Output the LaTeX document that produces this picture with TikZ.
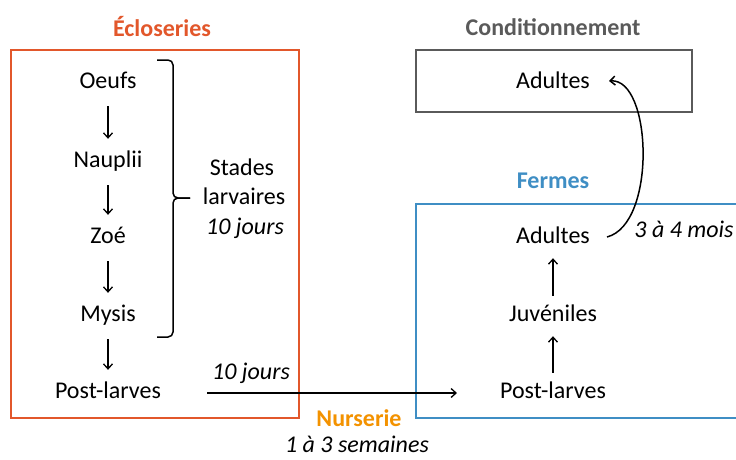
\documentclass[tikz,border=0pt]{standalone}
\usepackage{fontspec}
\setmainfont{Carlito}
\usetikzlibrary{arrows.meta}
\definecolor{eclred}{HTML}{E2572B}
\definecolor{condgray}{HTML}{5A5A5A}
\definecolor{fermblue}{HTML}{3F8EC4}
\definecolor{nursorange}{HTML}{F39200}
\begin{document}
\begin{tikzpicture}[x=1pt,y=-1pt,
  lbl/.style={font=\fontsize{24}{28}\selectfont, inner sep=0pt, text height=16pt, text depth=5pt, minimum height=44pt},
  ttl/.style={font=\fontsize{24}{28}\selectfont\bfseries, inner sep=0pt},
  itl/.style={font=\fontsize{24}{28}\selectfont\itshape, inner sep=0pt},
  arr/.style={line width=1.3pt, -{Straight Barb[length=5pt,width=9pt]}, shorten >=1pt, shorten <=1pt},
  boxline/.style={line width=2pt}]
\useasboundingbox (0,0) rectangle (736,459);
\clip (0,0) rectangle (736,459);
% Titles
\node[ttl, text=eclred] (tecl) at (162,27) {Écloseries};
\node[ttl, text=condgray] (tcond) at (553,27) {Conditionnement};
\node[ttl, text=fermblue] (tferm) at (553,181) {Fermes};
\node[ttl, text=nursorange] (tnurs) at (359,418) {Nurserie};
% Boxes
\node[boxline, draw=eclred, minimum width=288pt, minimum height=368pt, inner sep=0pt] (becl) at (155,234) {};
\node[boxline, draw=condgray, minimum width=276pt, minimum height=62pt, inner sep=0pt] (bcond) at (554,81) {};
\draw[boxline, draw=fermblue] (760,204) -- (416,204) -- (416,418) -- (760,418);
% Left column
\node[lbl] (oeufs) at (108,83) {Oeufs};
\node[lbl] (naup) at (108,162) {Nauplii};
\node[lbl] (zoe) at (108,238) {Zoé};
\node[lbl] (mysis) at (108,316) {Mysis};
\node[lbl] (plL) at (108,393) {Post-larves};
\draw[arr] (oeufs.south) -- (naup.north);
\draw[arr] (naup.south) -- (zoe.north);
\draw[arr] (zoe.south) -- (mysis.north);
\draw[arr] (mysis.south) -- (plL.north);
% Brace
\coordinate (bt) at (157,60);
\coordinate (bm) at (190,198);
\coordinate (bb) at (157,337);
\draw[line width=1.5pt, rounded corners=5pt] (bt) -- (173,60) -- (173,198) -- (bm);
\draw[line width=1.5pt, rounded corners=5pt] (bm) -- (173,198) -- (173,337) -- (bb);
\node[lbl] (stades) at (242,170) {Stades};
\node[lbl] (larv) at (244,199) {larvaires};
\node[itl] (dixj) at (245,228) {10 jours};
% Right column
\node[lbl] (adC) at (553,83) {Adultes};
\node[lbl] (adF) at (553,238) {Adultes};
\node[lbl] (juv) at (553,316) {Juvéniles};
\node[lbl] (plR) at (553,393) {Post-larves};
\draw[arr] ([yshift=-3pt]plR.north) -- ([yshift=3pt]juv.south);
\draw[arr] ([yshift=-3pt]juv.north) -- ([yshift=3pt]adF.south);
% Curved arrow
\coordinate (cs) at (607,237);
\coordinate (ce) at (609,81);
\draw[line width=1.5pt, -{Straight Barb[length=5pt,width=9pt]}] (cs) .. controls (657,224) and (652,78) .. (ce);
\node[itl] (mois) at (684,229) {3 à 4 mois};
% Horizontal arrow
\coordinate (hs) at (206,393);
\coordinate (he) at (458,393);
\draw[arr] (hs) -- (he);
\node[itl] (dixj2) at (251,373) {10 jours};
\node[itl] (sem) at (357,444) {1 à 3 semaines};
\end{tikzpicture}
\end{document}
